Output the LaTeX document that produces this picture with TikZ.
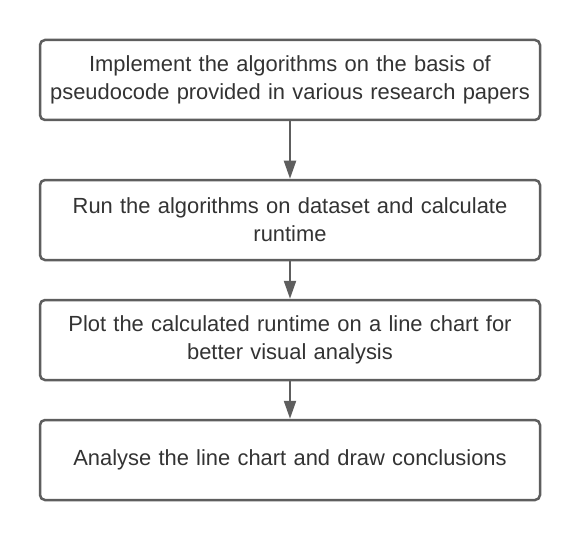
\documentclass[tikz,border=0pt]{standalone}
\usepackage{fontspec}
\setmainfont{Liberation Sans}
\usetikzlibrary{arrows.meta}
\definecolor{edge}{HTML}{5E5E5E}
\definecolor{ink}{HTML}{333333}
\tikzset{
  stepbox/.style={draw=edge, line width=2.5pt, rounded corners=5pt, fill=white,
    minimum width=500pt, minimum height=80pt, text width=494pt, align=center,
    text=ink, font=\fontsize{21.9}{28}\selectfont, inner sep=0pt},
  flow/.style={draw=edge, line width=2.2pt, -{Triangle[width=12pt,length=18pt]}}
}
\begin{document}
\begin{tikzpicture}[x=1pt, y=-1pt]
\useasboundingbox[fill=white] (0, 0) rectangle (580, 540);
\node[stepbox] (impl) at (290, 80) {Implement the algorithms on the basis of\\pseudocode provided in various research papers};
\node[stepbox] (run) at (290, 220) {Run the algorithms on dataset and calculate\\runtime};
\node[stepbox] (plot) at (290, 340) {Plot the calculated runtime on a line chart for\\better visual analysis};
\node[stepbox] (analyse) at (290, 460) {Analyse the line chart and draw conclusions};
\draw[flow] (impl) -- (run);
\draw[flow] (run) -- (plot);
\draw[flow] (plot) -- (analyse);
\end{tikzpicture}
\end{document}
